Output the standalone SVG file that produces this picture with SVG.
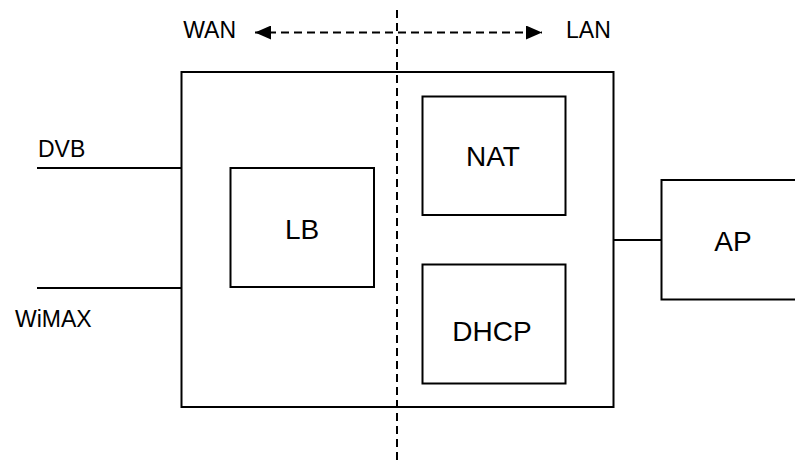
<svg xmlns="http://www.w3.org/2000/svg" width="795" height="463" viewBox="0 0 795 463">
<style>
  .box{fill:#fff;stroke:#000;stroke-width:2}
  .ln{stroke:#000;stroke-width:2;fill:none}
  .dash{stroke:#000;stroke-width:2;fill:none;stroke-dasharray:8,5}
  .big{font-family:"Liberation Sans",Arial,sans-serif;font-size:28px;fill:#000;text-anchor:middle}
  .lbl{font-family:"Liberation Sans",Arial,sans-serif;font-size:23px;fill:#000}
</style>
<defs>
  <marker id="ah" viewBox="0 0 16 14" refX="16" refY="7" markerWidth="16" markerHeight="14" markerUnits="userSpaceOnUse" orient="auto-start-reverse">
    <path d="M0,0 L16,7 L0,14 Z" fill="#000"/>
  </marker>
</defs>
<g id="router">
  <rect class="box" x="181.5" y="72" width="432" height="335"/>
</g>
<g id="lb">
  <rect class="box" x="230.5" y="168" width="143.5" height="119"/>
  <text class="big" x="302" y="239">LB</text>
</g>
<g id="nat">
  <rect class="box" x="422.5" y="96.5" width="143" height="118.5"/>
  <text class="big" x="493" y="166">NAT</text>
</g>
<g id="dhcp">
  <rect class="box" x="422.5" y="264.5" width="143" height="119"/>
  <text class="big" x="492" y="341">DHCP</text>
</g>
<g id="ap">
  <rect class="box" x="661.5" y="180" width="150" height="119.5"/>
  <text class="big" x="733" y="251">AP</text>
</g>
<g id="connectors">
  <line class="ln" x1="37" y1="168" x2="181.5" y2="168"/>
  <line class="ln" x1="37" y1="288" x2="181.5" y2="288"/>
  <line class="ln" x1="613.5" y1="240" x2="661.5" y2="240"/>
  <line class="dash" x1="397" y1="10" x2="397" y2="463"/>
  <line class="dash" x1="255" y1="32.5" x2="542" y2="32.5" marker-start="url(#ah)" marker-end="url(#ah)"/>
</g>
<g id="labels">
  <text class="lbl" x="38" y="157">DVB</text>
  <text class="lbl" x="15" y="327">WiMAX</text>
  <text class="lbl" x="236" y="38" text-anchor="end">WAN</text>
  <text class="lbl" x="566" y="38">LAN</text>
</g>
</svg>
